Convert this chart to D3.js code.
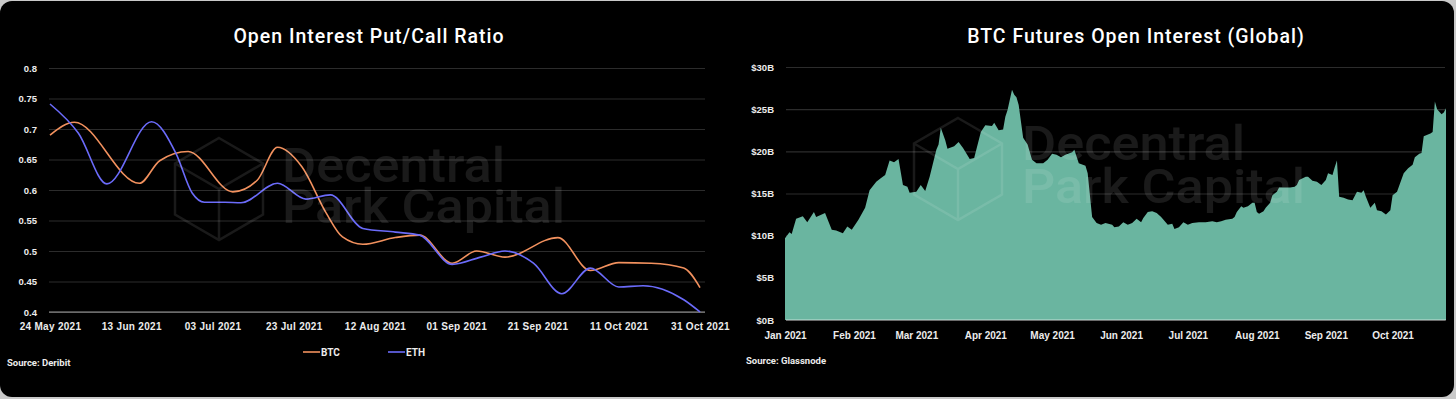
<!DOCTYPE html>
<html>
<head>
<meta charset="utf-8">
<script src="https://cdn.jsdelivr.net/npm/d3@7"></script>
<style>
  html, body { margin: 0; padding: 0; background: #c9c9c9; }
  svg { display: block; font-family: Roboto, "Noto Sans", sans-serif; }
  .axis text { fill: #ececec; font-size: 10px; font-weight: 700; }
  .grid line { stroke: #2c2c2c; stroke-width: 1.2; }
</style>
</head>
<body>
<svg width="1456" height="399"></svg>
<script>
// put/call ratio (Deribit)
var btcDates = ["2021-05-24","2021-05-30","2021-06-15","2021-06-20","2021-06-27","2021-07-08","2021-07-14","2021-07-19","2021-07-25","2021-07-31","2021-08-04","2021-08-09","2021-08-17","2021-08-23","2021-08-31","2021-09-06","2021-09-13","2021-09-26","2021-10-04","2021-10-11","2021-10-19","2021-10-27","2021-10-31"];
var btcValues = [0.690,0.711,0.611,0.648,0.663,0.597,0.616,0.670,0.638,0.562,0.523,0.511,0.522,0.526,0.480,0.500,0.490,0.522,0.468,0.481,0.480,0.472,0.440];
var ethDates = ["2021-05-24","2021-05-31","2021-06-07","2021-06-18","2021-06-24","2021-06-28","2021-07-01","2021-07-06","2021-07-10","2021-07-19","2021-07-26","2021-08-01","2021-08-09","2021-08-17","2021-08-23","2021-08-31","2021-09-07","2021-09-13","2021-09-20","2021-09-27","2021-10-04","2021-10-11","2021-10-17","2021-10-27","2021-10-31"];
var ethValues = [0.741,0.693,0.610,0.712,0.660,0.595,0.580,0.580,0.579,0.611,0.585,0.592,0.537,0.531,0.526,0.478,0.490,0.500,0.480,0.430,0.472,0.441,0.443,0.420,0.400];
var ratioTicks = [0.4,0.45,0.5,0.55,0.6,0.65,0.7,0.75,0.8];
var ratioDateTicks = ["2021-05-24","2021-06-13","2021-07-03","2021-07-23","2021-08-12","2021-09-01","2021-09-21","2021-10-11","2021-10-31"];

// BTC futures open interest, $B (Glassnode)
var oiDates = ["2021-01-01","2021-01-03","2021-01-04","2021-01-06","2021-01-09","2021-01-11","2021-01-14","2021-01-15","2021-01-19","2021-01-22","2021-01-24","2021-01-27","2021-01-29","2021-01-31",
"2021-02-03","2021-02-06","2021-02-08","2021-02-11","2021-02-13","2021-02-15","2021-02-17","2021-02-19","2021-02-21","2021-02-23","2021-02-25","2021-02-26",
"2021-03-01","2021-03-03","2021-03-05","2021-03-07","2021-03-10","2021-03-11","2021-03-12","2021-03-14","2021-03-15","2021-03-18","2021-03-20","2021-03-22","2021-03-25","2021-03-27","2021-03-30",
"2021-04-01","2021-04-04","2021-04-05","2021-04-07","2021-04-09","2021-04-10","2021-04-11","2021-04-13","2021-04-14","2021-04-15","2021-04-16","2021-04-18","2021-04-20","2021-04-22","2021-04-24","2021-04-27","2021-04-29",
"2021-05-01","2021-05-03","2021-05-05","2021-05-07","2021-05-10","2021-05-11","2021-05-13","2021-05-16","2021-05-17","2021-05-19","2021-05-21","2021-05-23","2021-05-25","2021-05-28","2021-05-29","2021-05-31",
"2021-06-02","2021-06-04","2021-06-06","2021-06-08","2021-06-10","2021-06-11","2021-06-13","2021-06-15","2021-06-17","2021-06-19","2021-06-22","2021-06-24","2021-06-25","2021-06-27","2021-06-29",
"2021-07-01","2021-07-03","2021-07-06","2021-07-09","2021-07-12","2021-07-14","2021-07-16","2021-07-18","2021-07-21","2021-07-22","2021-07-23","2021-07-25","2021-07-26","2021-07-28","2021-07-30","2021-07-31",
"2021-08-01","2021-08-02","2021-08-04","2021-08-05","2021-08-07","2021-08-08","2021-08-10","2021-08-11","2021-08-13","2021-08-14","2021-08-16","2021-08-18","2021-08-19","2021-08-20","2021-08-23","2021-08-24","2021-08-26","2021-08-28","2021-08-30",
"2021-09-01","2021-09-02","2021-09-04","2021-09-05","2021-09-06","2021-09-07","2021-09-09","2021-09-11","2021-09-13","2021-09-15","2021-09-17","2021-09-18","2021-09-19","2021-09-21","2021-09-23","2021-09-24","2021-09-26","2021-09-28","2021-09-30",
"2021-10-01","2021-10-03","2021-10-06","2021-10-08","2021-10-10","2021-10-11","2021-10-13","2021-10-14","2021-10-15","2021-10-18","2021-10-19","2021-10-20","2021-10-21","2021-10-23","2021-10-24","2021-10-25"];
var oiValues = [9.7,10.4,10.2,12.0,12.3,11.6,12.8,12.2,12.7,10.7,10.6,10.3,11.1,10.7,
11.9,13.3,15.4,16.4,16.8,17.2,18.9,18.7,19.1,16.0,15.8,15.1,
15.2,16.0,15.3,17.0,20.2,20.8,22.8,21.3,20.3,20.6,21.1,20.4,19.1,19.2,22.3,
23.1,23.0,23.4,22.5,22.6,24.1,24.9,27.3,26.7,26.4,25.5,21.6,20.8,19.0,18.6,18.6,19.0,
19.7,19.6,19.3,19.6,19.9,20.2,18.6,18.3,17.4,12.2,11.5,11.3,11.5,11.3,11.0,11.1,
11.6,11.3,11.5,12.0,11.6,12.1,12.8,12.9,12.7,12.2,11.3,11.4,10.8,11.0,11.6,
11.3,11.5,11.6,11.6,11.7,11.6,11.7,11.9,12.0,12.2,12.8,13.5,13.3,13.5,13.9,13.9,
12.8,12.6,12.9,13.3,13.9,14.8,15.2,15.7,15.7,15.7,15.7,15.8,16.0,16.6,17.0,17.0,16.5,16.4,16.0,
16.6,17.4,17.2,18.1,18.9,14.6,14.5,14.3,14.2,15.2,15.1,15.4,14.6,13.3,13.9,13.0,12.9,12.5,13.0,
14.8,15.2,17.4,18.0,18.4,19.3,19.7,19.8,21.8,22.1,22.3,25.9,25.0,24.4,24.6,25.1];
var oiTicks = [0,5,10,15,20,25,30];

var parse = d3.timeParse("%Y-%m-%d");
var svg = d3.select("svg");

svg.append("rect")
  .attr("x", 0).attr("y", 1).attr("width", 1454).attr("height", 396)
  .attr("rx", 12).attr("fill", "#000");

// ---------- watermarks (behind everything, light overlay look) ----------
function watermark(cx, cy, tx, b1, b2) {
  var w = 44, h = 51;
  var wm = svg.append("g").attr("pointer-events", "none");
  wm.append("path")
    .attr("d", "M" + cx + "," + (cy - h) + "L" + (cx + w) + "," + (cy - h / 2) + "L" + (cx + w) + "," + (cy + h / 2) +
      "L" + cx + "," + (cy + h) + "L" + (cx - w) + "," + (cy + h / 2) + "L" + (cx - w) + "," + (cy - h / 2) + "Z" +
      "M" + (cx - w) + "," + (cy - h / 2) + "L" + cx + "," + cy + "L" + (cx + w) + "," + (cy - h / 2) +
      "M" + cx + "," + cy + "L" + cx + "," + (cy + h))
    .attr("fill", "none").attr("stroke", "rgba(255,255,255,0.1)").attr("stroke-width", 2.5);
  var t = wm.append("text").attr("class", "wm")
    .attr("fill", "rgba(255,255,255,0.1)").style("font-size", "48px").style("font-weight", 500);
  t.append("tspan").attr("x", tx).attr("y", b1).text("Decentral")
    .attr("textLength", 223).attr("lengthAdjust", "spacingAndGlyphs");
  t.append("tspan").attr("x", tx).attr("y", b2).text("Park Capital")
    .attr("textLength", 283).attr("lengthAdjust", "spacingAndGlyphs");
  return wm;
}

// ---------- left: put/call ratio ----------
var x1 = d3.scaleTime().domain([parse("2021-05-24"), parse("2021-10-31")]).range([50, 700]);
var y1 = d3.scaleLinear().domain([0.4, 0.8]).range([312, 68]);

var gL = svg.append("g");

gL.append("g")
  .attr("class", "axis grid")
  .attr("transform", "translate(49,0)")
  .call(d3.axisLeft(y1).tickValues(ratioTicks).tickSize(-656).tickPadding(12)
    .tickFormat(function(d) { return d3.format("")(+d.toFixed(2)); }))
  .call(function(g) { g.select(".domain").remove(); })
  .call(function(g) { g.selectAll("text").style("font-size", "9.5px"); });

gL.append("line")
  .attr("x1", 49).attr("x2", 705).attr("y1", y1(0.4)).attr("y2", y1(0.4))
  .attr("stroke", "rgba(255,255,255,0.3)").attr("stroke-width", 2);

gL.append("g")
  .attr("class", "axis")
  .attr("transform", "translate(0,312)")
  .call(d3.axisBottom(x1).tickValues(ratioDateTicks.map(parse)).tickSize(0).tickPadding(11)
    .tickFormat(d3.timeFormat("%d %b %Y")))
  .call(function(g) { g.select(".domain").remove(); })
  .call(function(g) { g.selectAll("text").attr("letter-spacing", "0.3px"); });

var line1 = d3.line()
  .x(function(d) { return x1(d[0]); })
  .y(function(d) { return y1(d[1]); })
  .curve(d3.curveMonotoneX);

var btc = btcDates.map(function(d, i) { return [parse(d), btcValues[i]]; });
var eth = ethDates.map(function(d, i) { return [parse(d), ethValues[i]]; });

gL.append("path").datum(btc).attr("d", line1)
  .attr("fill", "none").attr("stroke", "#f2915e").attr("stroke-width", 1.6);
gL.append("path").datum(eth).attr("d", line1)
  .attr("fill", "none").attr("stroke", "#6b6bfa").attr("stroke-width", 1.6);

// legend
var legend = [["BTC", "#f2915e", 303], ["ETH", "#6b6bfa", 388]];
legend.forEach(function(l) {
  gL.append("line").attr("x1", l[2]).attr("x2", l[2] + 17).attr("y1", 352).attr("y2", 352)
    .attr("stroke", l[1]).attr("stroke-width", 1.6);
  gL.append("text").attr("x", l[2] + 18).attr("y", 355.5).text(l[0])
    .attr("fill", "#ececec").style("font-size", "10px").style("font-weight", 700);
});

gL.append("text").attr("x", 369).attr("y", 43).attr("text-anchor", "middle")
  .attr("fill", "#fff").style("font-size", "19.5px").style("font-weight", 500)
  .attr("letter-spacing", "1px")
  .text("Open Interest Put/Call Ratio");

gL.append("text").attr("x", 7).attr("y", 365.5).attr("fill", "#ececec")
  .style("font-size", "9.5px").style("font-weight", 700).text("Source: Deribit");

watermark(219, 189, 282, 182, 223);

// ---------- right: BTC futures open interest ----------
var x2 = d3.scaleTime().domain([parse("2021-01-01"), parse("2021-10-25")]).range([785, 1446]);
var y2 = d3.scaleLinear().domain([0, 30]).range([320, 67]);

var gR = svg.append("g");

gR.append("g")
  .attr("class", "axis grid")
  .attr("transform", "translate(786,0)")
  .call(d3.axisLeft(y2).tickValues(oiTicks).tickSize(-659).tickPadding(12)
    .tickFormat(function(d) { return "$" + d + "B"; }))
  .call(function(g) { g.select(".domain").remove(); })
  .call(function(g) { g.selectAll("text").style("font-size", "9.5px"); });

var oi = oiDates.map(function(d, i) { return [parse(d), oiValues[i]]; });

gR.append("path").datum(oi)
  .attr("fill", "#6ab5a0")
  .attr("d", d3.area()
    .x(function(d) { return x2(d[0]); })
    .y0(y2(0))
    .y1(function(d) { return y2(d[1]); }));

gR.append("line")
  .attr("x1", 786).attr("x2", 1446).attr("y1", y2(0)).attr("y2", y2(0))
  .attr("stroke", "rgba(255,255,255,0.3)").attr("stroke-width", 2);

gR.append("g")
  .attr("class", "axis")
  .attr("transform", "translate(0,320)")
  .call(d3.axisBottom(x2).tickValues(d3.timeMonths(parse("2021-01-01"), parse("2021-10-02")))
    .tickSize(0).tickPadding(12).tickFormat(d3.timeFormat("%b %Y")))
  .call(function(g) { g.select(".domain").remove(); });

gR.append("text").attr("x", 1136).attr("y", 43).attr("text-anchor", "middle")
  .attr("fill", "#fff").style("font-size", "19.5px").style("font-weight", 500)
  .attr("letter-spacing", "1px")
  .text("BTC Futures Open Interest (Global)");

gR.append("text").attr("x", 746).attr("y", 363.5).attr("fill", "#ececec")
  .style("font-size", "9.5px").style("font-weight", 700).text("Source: Glassnode");

watermark(958, 169, 1022, 160, 203);
</script>
</body>
</html>
